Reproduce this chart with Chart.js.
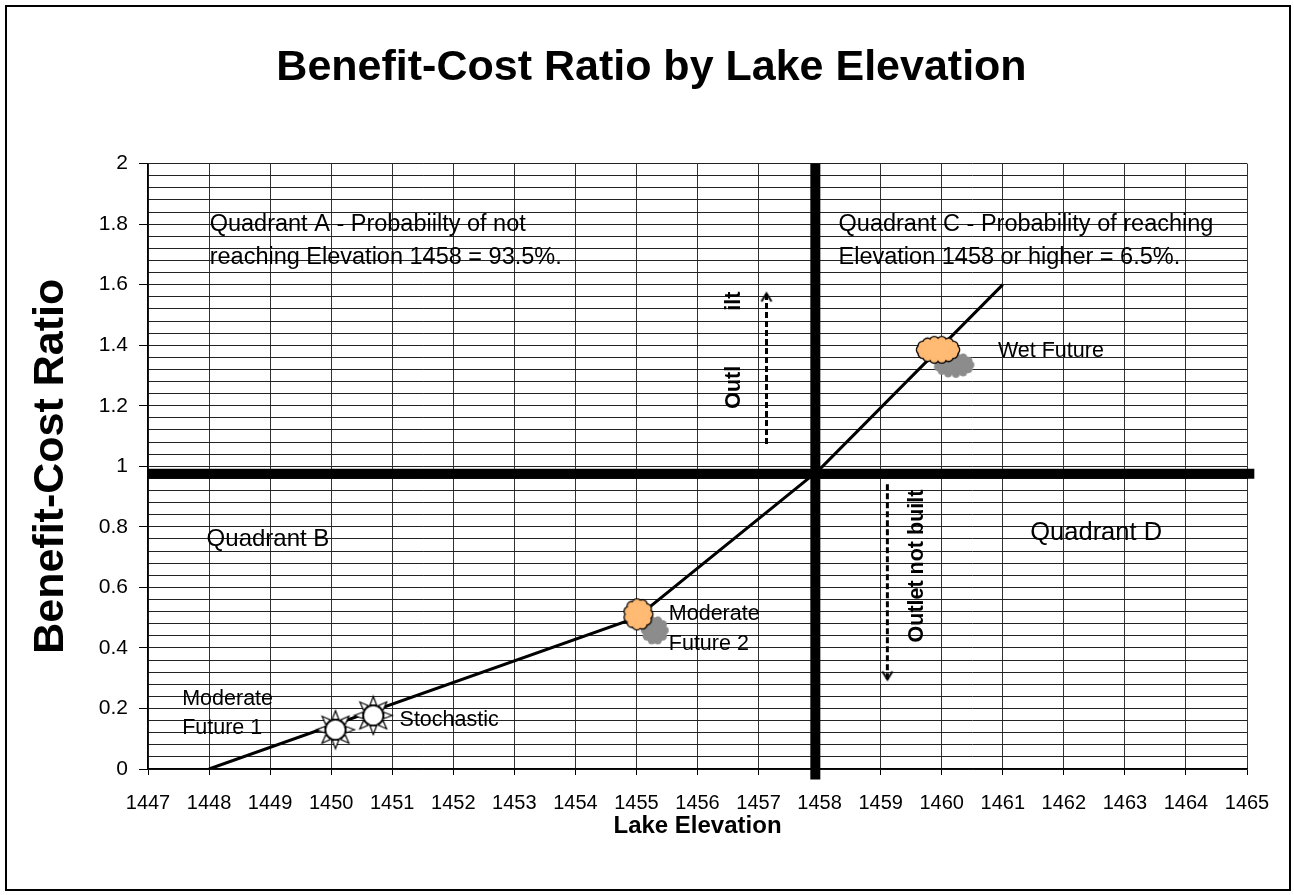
<!DOCTYPE html>
<html>
<head>
<meta charset="utf-8">
<title>Benefit-Cost Ratio by Lake Elevation</title>
<script src="https://cdn.jsdelivr.net/npm/chart.js@4.4.1/dist/chart.umd.min.js"></script>
<style>
  html, body { margin: 0; padding: 0; background: #fff; }
  #wrap { position: relative; width: 1294px; height: 895px; }
</style>
</head>
<body>
<div id="wrap"><canvas id="chart" width="1294" height="895"></canvas></div>
<script>
const xTickValues = [1447, 1448, 1449, 1450, 1451, 1452, 1453, 1454, 1455, 1456,
  1457, 1458, 1459, 1460, 1461, 1462, 1463, 1464, 1465];
const yTickLabels = ["0", "0.2", "0.4", "0.6", "0.8", "1", "1.2", "1.4", "1.6", "1.8", "2"];

// benefit-cost curve
const curveElevation = [1448, 1455, 1458, 1461];
const curveRatio = [0, 0.5, 0.99, 1.6];

// scenario markers
const sunElevation = [1450.07, 1450.69];
const sunRatio = [0.13, 0.177];
const orangeCloudElevation = [1455.03, 1459.94];
const orangeCloudRatio = [0.511, 1.385];
const greyCloudElevation = [1455.30, 1460.20];
const greyCloudRatio = [0.458, 1.335];

// quadrant dividers
const dividerElevation = 1457.93;
const dividerRatio = 0.975;

const FONT = "'Liberation Sans', Arial, sans-serif";

// text boxes, anchored in data units
const notes = [
  { text: "Quadrant A - Probabiilty of not", x: 1448.01, y: 1.80, size: 23.5 },
  { text: "reaching Elevation 1458 = 93.5%.", x: 1448.01, y: 1.69, size: 23.5 },
  { text: "Quadrant C - Probability of reaching", x: 1458.31, y: 1.80, size: 23.5 },
  { text: "Elevation 1458 or higher = 6.5%.", x: 1458.31, y: 1.69, size: 23.5 },
  { text: "Quadrant B", x: 1447.96, y: 0.759, size: 24 },
  { text: "Quadrant D", x: 1461.45, y: 0.779, size: 25.5 },
  { text: "Wet Future", x: 1460.92, y: 1.382, size: 21.5 },
  { text: "Moderate", x: 1455.53, y: 0.511, size: 21.5 },
  { text: "Future 2", x: 1455.53, y: 0.412, size: 21.5 },
  { text: "Moderate", x: 1447.56, y: 0.232, size: 21.5 },
  { text: "Future 1", x: 1447.56, y: 0.136, size: 21.5 },
  { text: "Stochastic", x: 1451.12, y: 0.161, size: 21.5 },
  { text: "Outl", x: 1456.6, y: 1.19, rotate: true },
  { text: "ilt", x: 1456.6, y: 1.514, rotate: true },
  { text: "Outlet not built", x: 1459.6, y: 0.418, rotate: true },
];

function xy(xs, ys) {
  return xs.map((x, i) => ({ x, y: ys[i] }));
}

function yLabelFor(v) {
  const i = Math.round(v / 0.2);
  return Math.abs(v - i * 0.2) < 1e-6 ? yTickLabels[i] : "";
}

function makeSun() {
  const c = document.createElement("canvas");
  c.width = 42; c.height = 42;
  const g = c.getContext("2d");
  g.translate(21, 21);
  g.lineWidth = 1.2;
  g.strokeStyle = "#000";
  g.fillStyle = "#fff";
  for (let k = 0; k < 8; k++) {
    const a = (k * Math.PI) / 4 - Math.PI / 2;
    g.beginPath();
    g.moveTo(Math.cos(a) * 19, Math.sin(a) * 19);
    g.lineTo(Math.cos(a - 0.3) * 11, Math.sin(a - 0.3) * 11);
    g.lineTo(Math.cos(a + 0.3) * 11, Math.sin(a + 0.3) * 11);
    g.closePath();
    g.fill();
    g.stroke();
  }
  g.beginPath();
  g.arc(0, 0, 10, 0, Math.PI * 2);
  g.fill();
  g.lineWidth = 1.5;
  g.stroke();
  return c;
}

function makeCloud(w, h, fill, outline) {
  const c = document.createElement("canvas");
  c.width = w + 8; c.height = h + 8;
  const g = c.getContext("2d");
  const cx = c.width / 2, cy = c.height / 2;
  const br = 4.2;
  const rx = w / 2 - br, ry = h / 2 - br;
  const perim = Math.PI * (3 * (rx + ry) - Math.sqrt((3 * rx + ry) * (rx + 3 * ry)));
  const n = Math.round(perim / (br * 1.45));
  const bumps = [];
  for (let k = 0; k < n; k++) {
    const a = (k / n) * Math.PI * 2;
    bumps.push([cx + Math.cos(a) * rx, cy + Math.sin(a) * ry]);
  }
  if (outline) {
    g.strokeStyle = "#000";
    g.lineWidth = 2.6;
    bumps.forEach(([bx, by]) => { g.beginPath(); g.arc(bx, by, br, 0, Math.PI * 2); g.stroke(); });
  }
  g.fillStyle = fill;
  bumps.forEach(([bx, by]) => { g.beginPath(); g.arc(bx, by, br, 0, Math.PI * 2); g.fill(); });
  g.beginPath();
  g.ellipse(cx, cy, rx + 0.5, ry + 0.5, 0, 0, Math.PI * 2);
  g.fill();
  return c;
}

function makeChevron(up) {
  const c = document.createElement("canvas");
  c.width = 14; c.height = 22;
  const g = c.getContext("2d");
  g.strokeStyle = "#000";
  g.lineWidth = 2;
  g.beginPath();
  if (up) { g.moveTo(2, 19); g.lineTo(7, 11); g.lineTo(12, 19); }
  else { g.moveTo(2, 3); g.lineTo(7, 11); g.lineTo(12, 3); }
  g.stroke();
  return c;
}

const sunImg = makeSun();
const orangeImgs = [makeCloud(28, 30, "#FFBA73", true), makeCloud(42, 26, "#FFBA73", true)];
const greyImgs = [makeCloud(28, 29, "#8C8C8C", false), makeCloud(41, 26, "#8C8C8C", false)];
const upHead = makeChevron(true);
const downHead = makeChevron(false);

const framePlugin = {
  id: "frame",
  beforeDraw(chart) {
    const { ctx, width, height } = chart;
    ctx.save();
    ctx.fillStyle = "#fff";
    ctx.fillRect(0, 0, width, height);
    ctx.strokeStyle = "#000";
    ctx.lineWidth = 2;
    ctx.strokeRect(6, 6, width - 10, height - 11);
    ctx.restore();
  },
};

const notesPlugin = {
  id: "notes",
  afterDatasetsDraw(chart) {
    const { ctx, scales } = chart;
    ctx.save();
    ctx.fillStyle = "#000";
    ctx.textBaseline = "middle";
    ctx.textAlign = "left";
    notes.forEach((n) => {
      const px = scales.x.getPixelForValue(n.x);
      const py = scales.y.getPixelForValue(n.y);
      if (n.rotate) {
        ctx.save();
        ctx.translate(px, py);
        ctx.rotate(-Math.PI / 2);
        ctx.font = `bold 21.5px ${FONT}`;
        ctx.fillText(n.text, 0, 0);
        ctx.restore();
        return;
      }
      ctx.font = `${n.size}px ${FONT}`;
      ctx.fillText(n.text, px, py);
    });
    ctx.restore();
  },
};

Chart.defaults.font.family = FONT;
Chart.defaults.color = "#000";

new Chart(document.getElementById("chart"), {
  type: "scatter",
  data: {
    datasets: [
      {
        data: [{ x: dividerElevation, y: 2 }, { x: dividerElevation, y: -0.035 }],
        showLine: true, borderColor: "#000", borderWidth: 10, borderCapStyle: "butt",
        pointRadius: 0, clip: false, order: 10,
      },
      {
        data: [{ x: 1447, y: dividerRatio }, { x: 1465.12, y: dividerRatio }],
        showLine: true, borderColor: "#000", borderWidth: 10, borderCapStyle: "butt",
        pointRadius: 0, clip: false, order: 10,
      },
      {
        data: xy(curveElevation, curveRatio),
        showLine: true, borderColor: "#000", borderWidth: 3, pointRadius: 0, order: 8,
      },
      {
        data: [{ x: 1457.13, y: 1.074 }, { x: 1457.13, y: 1.571 }],
        showLine: true, borderColor: "#000", borderWidth: 3, borderDash: [6, 3],
        pointRadius: (c) => (c.dataIndex === 1 ? 5 : 0), pointStyle: upHead, order: 7,
      },
      {
        data: [{ x: 1459.11, y: 0.941 }, { x: 1459.11, y: 0.296 }],
        showLine: true, borderColor: "#000", borderWidth: 3, borderDash: [6, 3],
        pointRadius: (c) => (c.dataIndex === 1 ? 5 : 0), pointStyle: downHead, order: 7,
      },
      {
        data: xy(greyCloudElevation, greyCloudRatio),
        pointStyle: (c) => greyImgs[c.dataIndex], pointRadius: 10, order: 5,
      },
      {
        data: xy(orangeCloudElevation, orangeCloudRatio),
        pointStyle: (c) => orangeImgs[c.dataIndex], pointRadius: 10, order: 4,
      },
      {
        data: xy(sunElevation, sunRatio),
        pointStyle: sunImg, pointRadius: 10, order: 3,
      },
    ],
  },
  options: {
    responsive: false,
    animation: false,
    events: [],
    layout: { padding: { left: 56, right: 47, top: 0, bottom: 8 } },
    plugins: {
      legend: { display: false },
      tooltip: { enabled: false },
      title: {
        display: true,
        text: "Benefit-Cost Ratio by Lake Elevation",
        color: "#000",
        font: { size: 43, weight: "bold" },
        padding: { top: 42, bottom: 70 },
      },
    },
    scales: {
      x: {
        type: "linear",
        min: 1447,
        max: 1465,
        afterBuildTicks: (scale) => { scale.ticks = xTickValues.map((v) => ({ value: v })); },
        afterFit: (scale) => { scale.height = 118; },
        grid: { color: "#333", lineWidth: 1, tickLength: 6, tickColor: "#000" },
        border: { color: "#000", width: 1.5 },
        ticks: {
          autoSkip: false, maxRotation: 0, padding: 16, color: "#000",
          font: { size: 20 }, callback: (v) => String(v),
        },
        title: {
          display: true, text: "Lake Elevation", color: "#000",
          font: { size: 24, weight: "bold" }, padding: { top: 0, bottom: 46 },
        },
      },
      y: {
        type: "linear",
        min: 0,
        max: 2,
        afterFit: (scale) => { scale.width = 92; },
        grid: {
          color: "#222", lineWidth: 1, tickLength: 9,
          tickColor: (c) => (c.tick && yLabelFor(c.tick.value) ? "#000" : "rgba(0,0,0,0)"),
        },
        border: { color: "#000", width: 1.5 },
        ticks: {
          stepSize: 0.04, maxTicksLimit: 60, autoSkip: false, padding: 11, color: "#000",
          font: { size: 21 }, callback: (v) => yLabelFor(v),
        },
        title: {
          display: true, text: "Benefit-Cost Ratio", color: "#000",
          font: { size: 43, weight: "bold" }, padding: { top: -31, bottom: 0 },
        },
      },
    },
  },
  plugins: [framePlugin, notesPlugin],
});
</script>
</body>
</html>
